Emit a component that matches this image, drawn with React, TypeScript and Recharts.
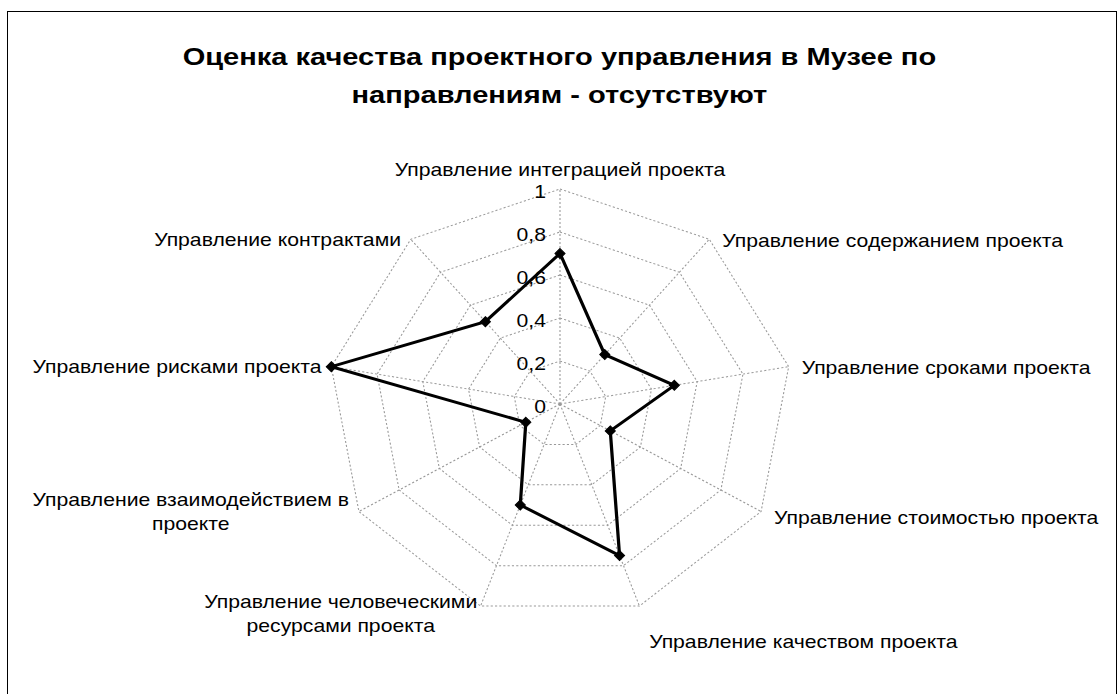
import React from 'react';
import { RadarChart, Radar, PolarGrid, PolarAngleAxis, PolarRadiusAxis } from 'recharts';

const titleLines = ['Оценка качества проектного управления в Музее по', 'направлениям - отсутствуют'];
const categories = [
  'Управление интеграцией проекта',
  'Управление содержанием проекта',
  'Управление сроками проекта',
  'Управление стоимостью проекта',
  'Управление качеством проекта',
  'Управление человеческими\nресурсами проекта',
  'Управление взаимодействием в\nпроекте',
  'Управление рисками проекта',
  'Управление контрактами',
];
const values = [0.7, 0.3, 0.5, 0.25, 0.75, 0.5, 0.17, 1.0, 0.5];
const radiusTicks = [0, 0.2, 0.4, 0.6, 0.8, 1];

const data = categories.map((c, i) => ({ name: c, v: values[i] }));

const W = 1119;
const H = 694;
const CX = 560;
const CY = 404;
const R = 215;
const STRETCH = 1.08; // horizontal stretch of the whole plot, as in the reference
const SX = 1.09; // extra horizontal stretch of label glyphs
const FONT = '"Liberation Sans", Arial, sans-serif';
const FS = 18;

let ctx: CanvasRenderingContext2D | null = null;
function measure(t: string): number {
  if (!ctx) {
    const c = document.createElement('canvas');
    ctx = c.getContext('2d');
  }
  if (!ctx) return t.length * 9;
  ctx.font = `${FS}px ${FONT}`;
  return ctx.measureText(t).width * SX;
}

function SText(props: { x: number; y: number; anchor: 'start' | 'middle' | 'end'; children: any }) {
  const { x, y, anchor, children } = props;
  return (
    <text
      transform={`translate(${x},${y}) scale(${SX},1)`}
      textAnchor={anchor}
      fontFamily={FONT}
      fontSize={FS}
      fill="#000"
    >
      {children}
    </text>
  );
}

function AngleTick(props: any) {
  const { x, y, payload } = props;
  const label: string = String(payload.value);
  const lines = label.split('\n');
  const theta = Math.atan2(x - CX, CY - y);
  const ux = Math.sin(theta);
  const uy = -Math.cos(theta);
  const vx = CX + R * ux;
  const vy = CY + R * uy;
  const lh = 24;
  let anchor: 'start' | 'middle' | 'end';
  let bx: number;
  let cy: number;
  if (uy < -0.9) {
    anchor = 'middle';
    bx = vx;
    cy = vy - 20;
  } else if (uy > 0.9) {
    if (ux > 0) {
      anchor = 'start';
      bx = vx + 9;
      cy = vy + 35;
    } else {
      anchor = 'end';
      bx = vx - 3;
      cy = vy + 7;
    }
  } else if (ux > 0) {
    anchor = 'start';
    bx = vx + 12;
    cy = vy + (uy > 0.3 ? 6 : 1);
  } else {
    anchor = 'end';
    bx = vx - 9;
    cy = vy + 0;
  }
  const widths = lines.map(measure);
  const bw = Math.max(...widths);
  let left: number;
  if (anchor === 'start') left = bx;
  else if (anchor === 'end') left = bx - bw;
  else left = bx - bw / 2;
  const top = cy - (lines.length * lh) / 2;
  return (
    <g>
      {lines.map((ln, i) => {
        const single = lines.length === 1;
        const tx = single ? bx : left + bw / 2;
        const ta = single ? anchor : 'middle';
        return (
          <SText key={i} x={tx} y={top + lh * i + lh / 2 + 6.5} anchor={ta}>
            {ln}
          </SText>
        );
      })}
    </g>
  );
}

function RadiusTick(props: any) {
  const { x, y, payload } = props;
  return (
    <SText x={x - 13} y={y + 9} anchor="end">
      {String(payload.value).replace('.', ',')}
    </SText>
  );
}

function Diamond(props: any) {
  const { cx, cy, index } = props;
  const s = 5;
  return (
    <path
      key={`d-${index}`}
      d={`M${cx},${cy - s}L${cx + s * 0.93},${cy}L${cx},${cy + s}L${cx - s * 0.93},${cy}Z`}
      fill="#000"
      stroke="#000"
      strokeWidth={1}
    />
  );
}

export default function App() {
  return (
    <div
      style={{
        position: 'fixed',
        left: 0,
        top: 0,
        width: W,
        height: H,
        overflow: 'hidden',
        background: '#fff',
      }}
    >
      <div
        style={{
          position: 'absolute',
          left: 7,
          top: 11,
          width: 1110,
          height: 720,
          border: '1px solid #000',
          boxSizing: 'border-box',
        }}
      />
      <div
        style={{
          position: 'absolute',
          left: 0,
          top: 38,
          width: W,
          textAlign: 'center',
          fontFamily: FONT,
          fontWeight: 'bold',
          fontSize: 24,
          lineHeight: '38px',
          color: '#000',
          transform: 'scaleX(1.21)',
          transformOrigin: `${CX}px 0`,
        }}
      >
        {titleLines.map((t, i) => (
          <div key={i}>{t}</div>
        ))}
      </div>
      <div
        style={{
          position: 'absolute',
          left: 0,
          top: 0,
          transform: `scaleX(${STRETCH})`,
          transformOrigin: `${CX}px 0`,
        }}
      >
        <RadarChart
          width={W}
          height={H}
          data={data}
          cx={CX}
          cy={CY}
          outerRadius={R}
          startAngle={90}
          endAngle={-270}
          margin={{ top: 0, right: 0, bottom: 0, left: 0 }}
        >
          <PolarGrid gridType="polygon" stroke="#999" strokeDasharray="2 2" strokeWidth={1} />
          <PolarAngleAxis dataKey="name" tick={<AngleTick />} tickLine={false} axisLine={false} />
          <PolarRadiusAxis
            angle={90}
            domain={[0, 1]}
            ticks={radiusTicks as any}
            tickCount={6}
            axisLine={false}
            tickLine={false}
            tick={<RadiusTick />}
          />
          <Radar
            dataKey="v"
            stroke="#000"
            strokeWidth={3}
            fill="none"
            fillOpacity={0}
            dot={(p: any) => <Diamond {...p} />}
            isAnimationActive={false}
          />
        </RadarChart>
      </div>
    </div>
  );
}
